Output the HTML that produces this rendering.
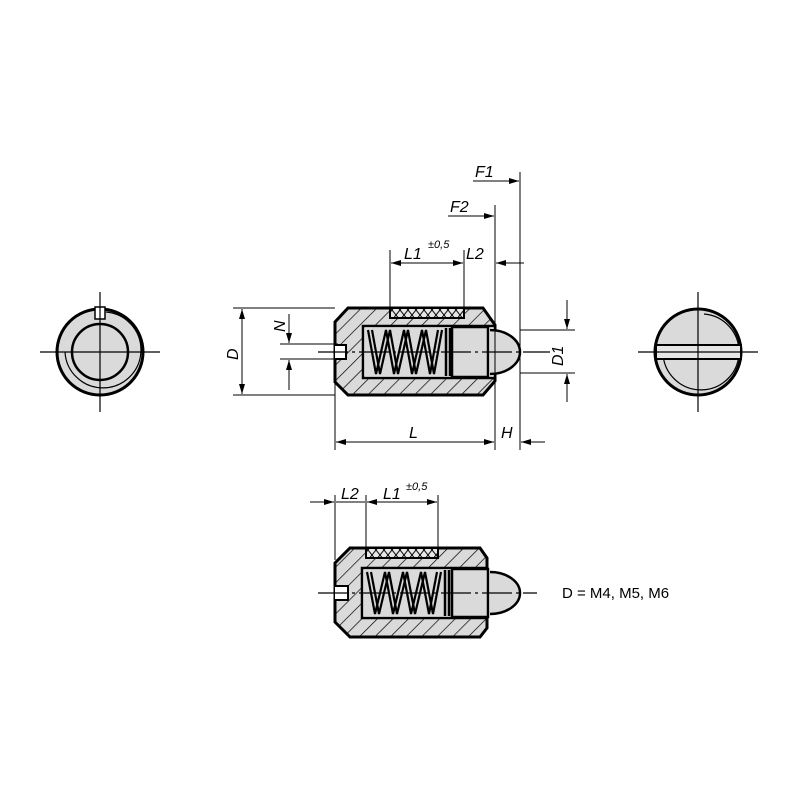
<!DOCTYPE html>
<html><head><meta charset="utf-8"><style>html,body{margin:0;padding:0;background:#fff}svg{display:block}text{font-family:"Liberation Sans",sans-serif;font-style:italic;fill:#000}</style></head><body>
<svg width="800" height="800" viewBox="0 0 800 800" xmlns="http://www.w3.org/2000/svg">
<defs>
<pattern id="h" width="11" height="11" patternUnits="userSpaceOnUse" patternTransform="rotate(45)"><rect width="11" height="11" fill="#dadada"/><line x1="0" y1="0" x2="0" y2="11" stroke="#000" stroke-width="1.4"/></pattern>
<pattern id="k" width="8" height="10" patternUnits="userSpaceOnUse"><rect width="8" height="10" fill="#e6e6e6"/><path d="M0 0L8 10M8 0L0 10" stroke="#000" stroke-width="1"/></pattern>
<marker id="a" viewBox="0 0 10 6" refX="10" refY="3" markerWidth="11" markerHeight="6" orient="auto-start-reverse" markerUnits="userSpaceOnUse"><path d="M0 0L10 3L0 6z" fill="#000"/></marker>
</defs>
<g stroke="#000" fill="none">
<circle cx="100" cy="352" r="43" fill="#dadada" stroke-width="3"/>
<circle cx="100" cy="352" r="28" fill="#dadada" stroke-width="2.5"/>
<path d="M106 312 A38 38 0 1 1 65 352" stroke-width="1.2"/>
<rect x="95" y="307" width="10" height="12" fill="#fff" stroke-width="1.5"/>
<path d="M40 352H160M100 292V412" stroke-width="1.2"/>
<circle cx="698" cy="352" r="43" fill="#dadada" stroke-width="3"/>
<path d="M704 314 A38 38 0 1 1 663 352" stroke-width="1.2"/>
<rect x="656" y="345" width="85" height="14" fill="#e6e6e6" stroke-width="2"/>
<path d="M638 352H758M698 292V412" stroke-width="1.2"/>
<path d="M348 308H483L495 325V381L483 395H348L335 382V322Z" fill="url(#h)" stroke-width="3"/>
<rect x="390" y="308" width="74" height="10" fill="url(#k)" stroke-width="2"/>
<rect x="363" y="326" width="132" height="52" fill="#fff" stroke-width="2.5"/>
<rect x="365" y="328" width="86" height="48" fill="#dadada" stroke="none"/>
<path d="M368 330L376 374L386 330L394 374L404 330L412 374L422 330L430 374L438 330" stroke-width="2.2"/>
<path d="M372 330L380 374L390 330L398 374L408 330L416 374L426 330L434 374L442 330" stroke-width="2.2"/>
<path d="M446 328V376M450 328V376" stroke-width="2.5"/>
<rect x="452" y="327" width="36" height="50" fill="#dadada" stroke-width="2.5"/>
<path d="M490 330A30 22 0 0 1 490 374" fill="#dadada" stroke-width="2.5"/>
<path d="M335 345H346V359H335" fill="#fff" stroke-width="2"/>
<path d="M318 352H550" stroke-width="1.2" stroke-dasharray="30 4 3 4"/>
<path d="M233 308H335M233 395H335M280 344H338M280 359H338M520 330H575M520 373H575" stroke-width="1"/>
<path d="M335 382V450M495 205V450M520 172V450M390 250V308M464 250V308" stroke-width="1"/>
<line x1="242" y1="352" x2="242" y2="309" marker-end="url(#a)" stroke-width="1"/>
<line x1="242" y1="352" x2="242" y2="394" marker-end="url(#a)" stroke-width="1"/>
<line x1="289" y1="314" x2="289" y2="343" marker-end="url(#a)" stroke-width="1"/>
<line x1="289" y1="390" x2="289" y2="360" marker-end="url(#a)" stroke-width="1"/>
<line x1="567" y1="300" x2="567" y2="329" marker-end="url(#a)" stroke-width="1"/>
<line x1="567" y1="402" x2="567" y2="374" marker-end="url(#a)" stroke-width="1"/>
<line x1="336" y1="442" x2="494" y2="442" marker-start="url(#a)" marker-end="url(#a)" stroke-width="1"/>
<line x1="545" y1="442" x2="521" y2="442" marker-end="url(#a)" stroke-width="1"/>
<line x1="391" y1="263" x2="463" y2="263" marker-start="url(#a)" marker-end="url(#a)" stroke-width="1"/>
<line x1="520" y1="263" x2="496" y2="263" marker-end="url(#a)" stroke-width="1"/>
<line x1="448" y1="216" x2="494" y2="216" marker-end="url(#a)" stroke-width="1"/>
<line x1="473" y1="181" x2="519" y2="181" marker-end="url(#a)" stroke-width="1"/>
<line x1="514" y1="263" x2="524" y2="263" stroke-width="1"/>
<path d="M350 548H480L487 558V628L480 637H350L335 622V563Z" fill="url(#h)" stroke-width="3"/>
<rect x="366" y="548" width="72" height="10" fill="url(#k)" stroke-width="2"/>
<rect x="362" y="568" width="125" height="50" fill="#fff" stroke-width="2.5"/>
<rect x="364" y="570" width="87" height="46" fill="#dadada" stroke="none"/>
<path d="M367 572L375 614L385 572L393 614L403 572L411 614L421 572L429 614L437 572" stroke-width="2.2"/>
<path d="M371 572L379 614L389 572L397 614L407 572L415 614L425 572L433 614L441 572" stroke-width="2.2"/>
<path d="M445 570V616M449 570V616" stroke-width="2.5"/>
<rect x="452" y="569" width="36" height="48" fill="#dadada" stroke-width="2.5"/>
<path d="M490 572A30 21 0 0 1 490 614" fill="#dadada" stroke-width="2.5"/>
<path d="M335 586H348V600H335" fill="#fff" stroke-width="2"/>
<path d="M318 593H537" stroke-width="1.2" stroke-dasharray="30 4 3 4"/>
<path d="M335 495V560M366 495V548M438 495V548" stroke-width="1"/>
<line x1="310" y1="502" x2="334" y2="502" marker-end="url(#a)" stroke-width="1"/>
<line x1="336" y1="502" x2="365" y2="502" stroke-width="1"/>
<line x1="367" y1="502" x2="437" y2="502" marker-start="url(#a)" marker-end="url(#a)" stroke-width="1"/>
</g>
<g font-size="16">
<text x="475" y="177">F1</text>
<text x="450" y="212">F2</text>
<text x="404" y="259">L1</text><text x="428" y="248" font-size="11">±0,5</text>
<text x="466" y="259">L2</text>
<text x="409" y="438">L</text>
<text x="501" y="438">H</text>
<text transform="translate(238 360) rotate(-90)">D</text>
<text transform="translate(285 332) rotate(-90)">N</text>
<text transform="translate(563 366) rotate(-90)">D1</text>
<text x="341" y="499">L2</text>
<text x="383" y="499">L1</text><text x="406" y="490" font-size="11">±0,5</text>
<text x="562" y="598" style="font-style:normal" font-size="15">D = M4, M5, M6</text>
</g>
</svg>
</body></html>
